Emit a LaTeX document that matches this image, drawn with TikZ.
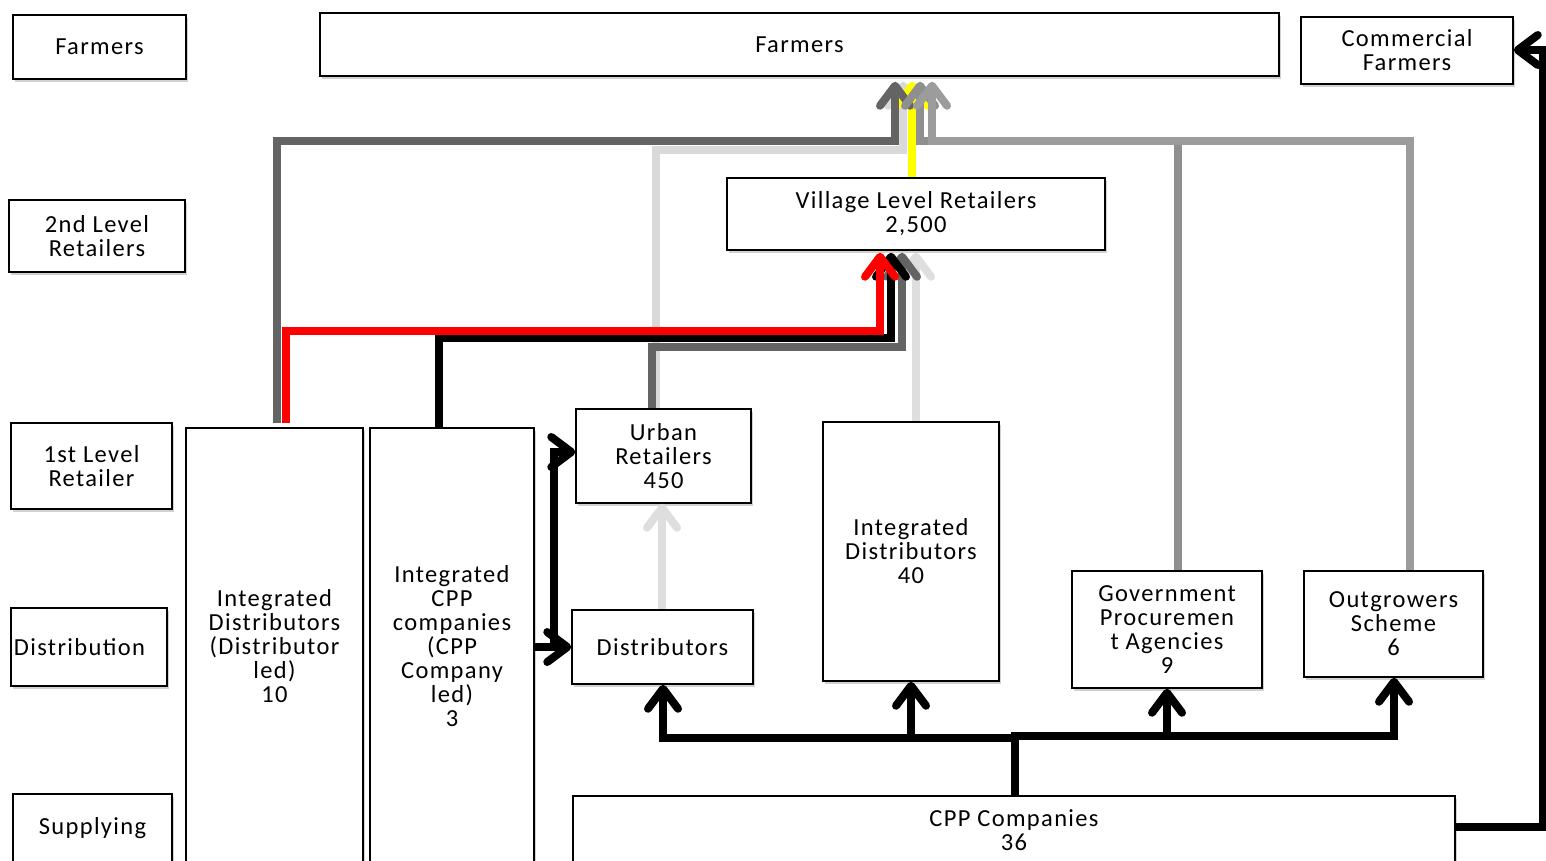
\documentclass[tikz,border=0pt]{standalone}
\usepackage{fontspec}
\setmainfont{Carlito}[LetterSpace=5.5]
\usetikzlibrary{arrows.meta,shadows}
\definecolor{dgray}{HTML}{646464}
\definecolor{lgray}{HTML}{D9D9D9}
\definecolor{lgray2}{HTML}{DEDEDE}
\definecolor{mgray}{HTML}{8F8F8F}
\definecolor{mgray2}{HTML}{9C9C9C}
\definecolor{yel}{HTML}{FFFF00}
\definecolor{rd}{HTML}{FF0000}
\tikzset{
  box/.style={draw=black, line width=1.5pt, fill=white, inner sep=0pt, align=center,
    font=\fontsize{24.5}{24}\selectfont,
    drop shadow={shadow xshift=2pt, shadow yshift=-3pt, opacity=0.18, fill=black}},
  flow/.style={line width=8pt, line join=miter,
    -{Straight Barb[length=20pt,width=30pt,round]}},
  plain/.style={line width=8pt}
}
\begin{document}
\begin{tikzpicture}[x=1pt,y=-1pt]
\useasboundingbox (0,0) rectangle (1546,861);
\clip (0,0) rectangle (1546,861);
\fill[white] (0,0) rectangle (1546,861);
% left level labels
\node[box, minimum width=173pt, minimum height=64pt] (lf) at (99.5,47) {Farmers};
\node[box, minimum width=176pt, minimum height=72pt] (l2) at (97,236) {2nd Level\\Retailers};
\node[box, minimum width=161pt, minimum height=86pt] (l1) at (91.5,466) {1st Level\\Retailer};
\node[box, minimum width=156pt, minimum height=78pt] (ld) at (89,647) {\hspace*{-19pt}Distribution};
\node[box, minimum width=159pt, minimum height=68pt] (ls) at (92.5,828) {Supplying};
% main boxes
\node[box, minimum width=959pt, minimum height=63pt] (farm) at (799.5,44.5) {Farmers};
\node[box, minimum width=212pt, minimum height=67pt] (comm) at (1407,50.5) {Commercial\\Farmers};
\node[box, minimum width=378pt, minimum height=72pt] (vill) at (916,214) {Village Level Retailers\\2,500};
\node[box, minimum width=177pt, minimum height=436pt] (idd) at (274.5,646) {Integrated\\Distributors\\(Distributor\\led)\\10};
\node[box, minimum width=164pt, minimum height=436pt] (icpp) at (452,646) {Integrated\\CPP\\companies\\(CPP\\Company\\led)\\3};
\node[box, minimum width=175pt, minimum height=94pt] (urb) at (663.5,456) {Urban\\Retailers\\450};
\node[box, minimum width=181pt, minimum height=74pt] (dist) at (662.5,647) {Distributors};
\node[box, minimum width=176pt, minimum height=259pt] (id40) at (911,551.5) {Integrated\\Distributors\\40};
\node[box, minimum width=190pt, minimum height=117pt] (gov) at (1167,629.5) {Government\\Procuremen\\t Agencies\\9};
\node[box, minimum width=179pt, minimum height=106pt] (outg) at (1393.5,624) {Outgrowers\\Scheme\\6};
\node[box, minimum width=882pt, minimum height=68pt] (cpp) at (1014,830) {CPP Companies\\36};

% connectors to Farmers
\draw[flow, lgray, shorten >=5pt] (urb.north -| 656,0) -- (656,150) -- (903,150) -- (farm.south -| 903,0);
\draw[flow, yel, shorten >=5pt] (vill.north -| 912,0) -- (farm.south -| 912,0);
\draw[flow, dgray, shorten <=4pt, shorten >=5pt] (idd.north -| 277,0) -- (277,141) -- (895,141) -- (farm.south -| 895,0);
\draw[flow, mgray, shorten >=5pt] (gov.north -| 1178,0) -- (1178,141) -- (920,141) -- (farm.south -| 920,0);
\draw[flow, mgray2, shorten >=5pt] (outg.north -| 1410,0) -- (1410,141) -- (932,141) -- (farm.south -| 932,0);

% connectors to Village Level Retailers
\draw[flow, lgray2, shorten >=2pt] (id40.north -| 916,0) -- (vill.south -| 916,0);
\draw[flow, dgray, shorten >=2pt] (urb.north -| 652,0) -- (652,347) -- (902,347) -- (vill.south -| 902,0);
\draw[flow, black, shorten >=2pt] (icpp.north -| 439,0) -- (439,338) -- (891,338) -- (vill.south -| 891,0);
\draw[flow, rd, shorten <=4pt, shorten >=2pt] (idd.north -| 286,0) -- (286,331) -- (880,331) -- (vill.south -| 880,0);

% distributors to urban retailers
\draw[flow, lgray2] (dist.north -| 662,0) -- (urb.south -| 662,0);

% integrated CPP to distributors and urban retailers
\draw[flow, black] (icpp.east |- 0,647) -- (dist.west |- 0,647);
\draw[flow, black] (554,647) -- (554,452) -- (urb.west |- 0,452);

% CPP companies to distribution
\draw[flow, black] (cpp.north -| 1015,0) -- (1015,738) -- (663,738) -- (dist.south -| 663,0);
\draw[flow, black] (911,738) -- (id40.south -| 911,0);
\draw[flow, black] (cpp.north -| 1015,0) -- (1015,736) -- (1394,736) -- (outg.south -| 1394,0);
\draw[flow, black] (1167,736) -- (gov.south -| 1167,0);

% CPP companies to commercial farmers
\draw[flow, black] (cpp.east |- 0,827) -- (1543,827) -- (1543,50) -- (comm.east |- 0,50);
\end{tikzpicture}
\end{document}
